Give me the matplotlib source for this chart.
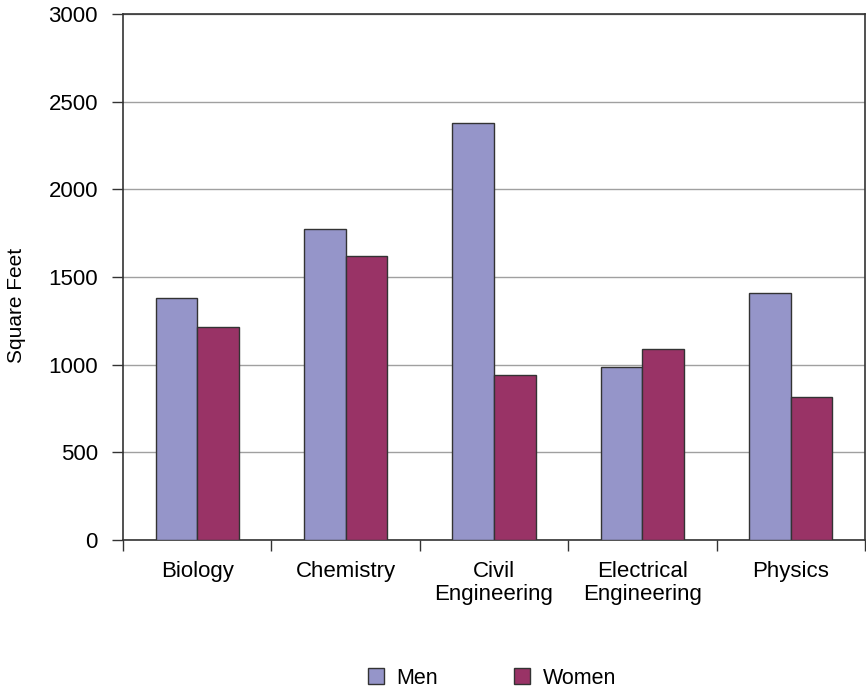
import matplotlib.pyplot as plt
import numpy as np

plt.rcParams['font.family'] = ['Liberation Sans', 'DejaVu Sans']

kategorije = ["Biology", "Chemistry", "Civil\nEngineering", "Electrical\nEngineering", "Physics"]
moski = [1380, 1775, 2378, 987, 1410]
zenske = [1215, 1620, 941, 1089, 816]
y_ticki = [0, 500, 1000, 1500, 2000, 2500, 3000]

fig = plt.figure(figsize=(8.66, 6.93), dpi=100)
ax = fig.add_axes([0.142, 0.2208, 0.857, 0.759])

x = np.arange(len(kategorije))
sirina = 0.28
ax.bar(x - sirina/2, moski, sirina, color="#9595C9", edgecolor="#333333", linewidth=1, label="Men", zorder=3)
ax.bar(x + sirina/2, zenske, sirina, color="#993366", edgecolor="#333333", linewidth=1, label="Women", zorder=3)

ax.set_xlim(-0.5, len(kategorije) - 0.5)
ax.set_ylim(0, 3000)
ax.set_yticks(y_ticki)
ax.tick_params(axis="y", labelsize=16, length=8, width=1, color="#333333", pad=10)
ax.yaxis.grid(True, color="#A0A0A0", linewidth=1, zorder=0)

#x ticki na mejah kategorij, napisi na sredini
ax.set_xticks(np.arange(-0.5, len(kategorije), 1.0))
ax.set_xticklabels([])
ax.set_xticks(x, minor=True)
ax.set_xticklabels(kategorije, minor=True, fontsize=16, linespacing=1.15)
ax.tick_params(axis="x", which="major", length=8, width=1, color="#333333")
ax.tick_params(axis="x", which="minor", length=0, pad=15)

for s in ax.spines.values():
    s.set_color("#333333")
    s.set_linewidth(1.2)

ax.set_ylabel("Square Feet", fontsize=15, labelpad=16, y=0.445)

fig.legend(loc="lower center", bbox_to_anchor=(0.568, -0.022), ncol=2, frameon=False,
           fontsize=15.5, handlelength=0.75, handleheight=0.75, columnspacing=3.5, handletextpad=0.6)

fig.savefig("out.png", dpi=100)
